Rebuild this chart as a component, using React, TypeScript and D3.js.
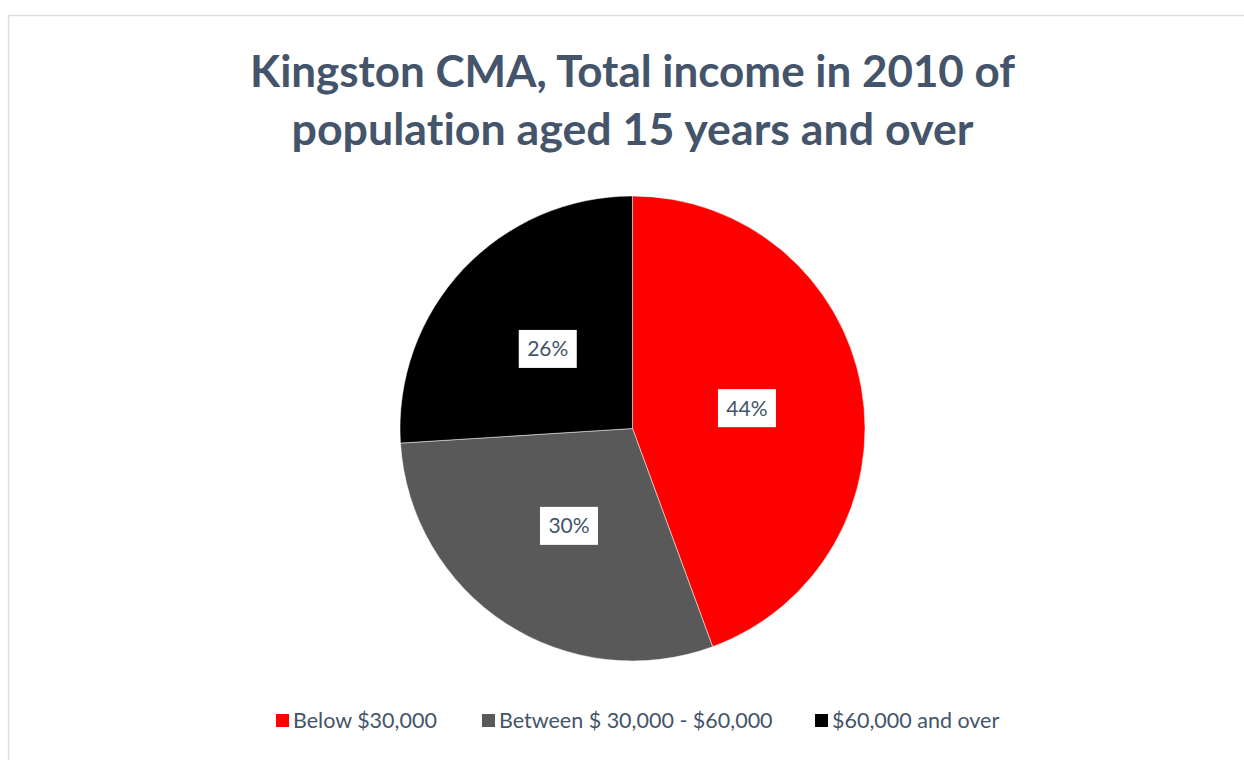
import React from "react";
import * as d3 from "d3";

const categories = ["Below $30,000", "Between $ 30,000 - $60,000", "$60,000 and over"];
const values = [44.4, 29.6, 26.0];
const colors = ["#FF0000", "#595959", "#000000"];
const titleLines = ["Kingston CMA, Total income in 2010 of", "population aged 15 years and over"];
const titleWidths = [765, 682];

const W = 1244;
const H = 760;
const cx = 632.5;
const cy = 428.5;
const R = 232.5;
const textColor = "#44546A";
const font = "Lato, 'Open Sans', sans-serif";

export default function App() {
  const pie = d3.pie<number>().sort(null).value((d) => d);
  const arcs = pie(values);
  const arc = d3.arc<d3.PieArcDatum<number>>().innerRadius(0).outerRadius(R);
  const labelArc = d3.arc<d3.PieArcDatum<number>>().innerRadius(R * 0.5).outerRadius(R * 0.5);
  const total = d3.sum(values);

  const legendX = [276, 482, 815];

  return (
    <svg
      width={W}
      height={H}
      style={{ position: "absolute", left: 0, top: 0, background: "#fff", fontVariantLigatures: "none" }}
    >
      <rect x={8.5} y={15.5} width={W + 20} height={H + 20} fill="#fff" stroke="#D9DEE4" strokeWidth={1.5} />
      {titleLines.map((t, i) => (
        <text
          key={i}
          x={cx}
          y={87 + i * 58}
          textAnchor="middle"
          fontFamily={font}
          fontWeight={700}
          fontSize={43}
          fill={textColor}
          textLength={titleWidths[i]}
          lengthAdjust="spacingAndGlyphs"
        >
          {t}
        </text>
      ))}
      <g transform={`translate(${cx},${cy})`}>
        {arcs.map((a, i) => (
          <path key={i} d={arc(a) || ""} fill={colors[i]} stroke="#fff" strokeWidth={0.5} />
        ))}
        {arcs.map((a, i) => {
          const [x, y] = labelArc.centroid(a);
          const label = `${Math.round((a.data / total) * 100)}%`;
          return (
            <g key={i} transform={`translate(${x},${y})`}>
              <rect x={-29} y={-19} width={58} height={38} fill="#fff" />
              <text x={0} y={7.5} textAnchor="middle" fontFamily={font} fontSize={21} fill={textColor}>
                {label}
              </text>
            </g>
          );
        })}
      </g>
      {categories.map((c, i) => (
        <g key={i}>
          <rect x={legendX[i]} y={714} width={13} height={13} fill={colors[i]} />
          <text x={legendX[i] + 17} y={728} fontFamily={font} fontSize={21.5} fill={textColor}>
            {c}
          </text>
        </g>
      ))}
    </svg>
  );
}
